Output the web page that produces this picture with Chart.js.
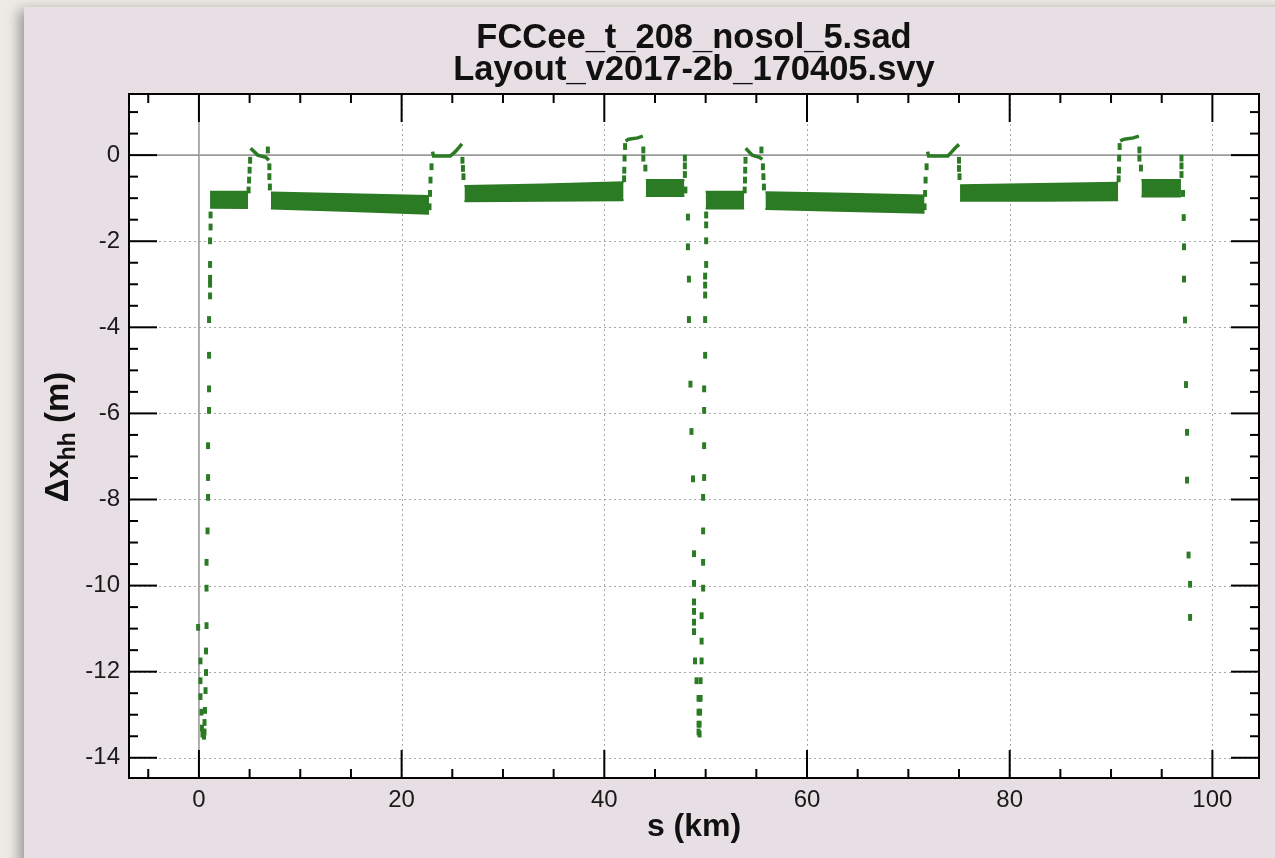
<!DOCTYPE html>
<html>
<head>
<meta charset="utf-8">
<title>FCCee_t_208_nosol_5.sad</title>
<script src="https://cdn.jsdelivr.net/npm/chart.js@4.4.1/dist/chart.umd.min.js"></script>
<style>
  html, body { margin: 0; padding: 0; }
  body { width: 1275px; height: 858px; background: #ecebe6; position: relative; overflow: hidden; }
  .panel { position: absolute; left: 24px; top: 7px; width: 1270px; height: 870px; background: #e8dfe4; box-shadow: -5px 3px 12px rgba(0, 0, 0, 0.35); }
  #orbitChart { position: absolute; left: 0; top: 0; }
</style>
</head>
<body>
<div class="panel"></div>
<canvas id="orbitChart" width="1275" height="858"></canvas>
<script>
const titleLines = ['FCCee_t_208_nosol_5.sad', 'Layout_v2017-2b_170405.svy'];
const xTicks = [0, 20, 40, 60, 80, 100];
const yTicks = [-14, -12, -10, -8, -6, -4, -2, 0];

// dense arc regions: s (km) along each band with upper / lower edge (m)
const bandS = [
  [1.1, 4.85], [7.1, 15, 22.7], [26.2, 34, 41.9], [44.1, 47.9],
  [50.0, 53.8], [55.9, 64, 71.6], [75.1, 83, 90.7], [93.0, 96.9],
];
const bandUpper = [
  [-0.85, -0.85], [-0.87, -0.91, -0.95], [-0.72, -0.68, -0.63], [-0.58, -0.58],
  [-0.85, -0.85], [-0.86, -0.90, -0.94], [-0.70, -0.67, -0.64], [-0.58, -0.58],
];
const bandLower = [
  [-1.22, -1.23], [-1.24, -1.30, -1.36], [-1.07, -1.06, -1.05], [-0.95, -0.95],
  [-1.24, -1.24], [-1.25, -1.30, -1.34], [-1.06, -1.06, -1.05], [-0.96, -0.96],
];

// straight-section plateaus
const peakS = [
  [5.1, 5.8, 6.6, 6.9], [23.05, 23.15, 24.8, 25.3, 25.6, 25.95], [42.1, 42.4, 43.3, 43.8],
  [53.95, 54.6, 55.3, 55.6], [71.9, 72.0, 73.9, 74.3, 74.6, 75.0], [90.9, 91.3, 92.2, 92.75],
];
const peakY = [
  [0.16, 0.0, -0.05, -0.12], [0.08, -0.02, -0.02, 0.08, 0.16, 0.26], [0.33, 0.37, 0.40, 0.44],
  [0.16, 0.0, -0.05, -0.10], [0.08, -0.02, -0.02, 0.08, 0.16, 0.25], [0.33, 0.37, 0.40, 0.44],
];

// isolated elements: IR dips, plateau edges
const dotS = [
  -0.08, 0.15, 0.15, 0.15, 0.25, 0.3, 0.35,
  1.15, 1.15, 1.1, 1.1, 1.1, 1.1, 1.1, 1.0, 1.0, 1.0, 1.0, 0.9, 0.9, 0.9, 0.85, 0.75, 0.75, 0.75, 0.7, 0.7, 0.65, 0.6, 0.55, 0.55, 0.5,
  4.9, 4.95, 5.0, 5.05, 6.8, 6.95, 6.95, 7.0,
  22.75, 22.8, 22.85, 22.95, 26.0, 26.05, 26.1,
  41.95, 41.97, 42.0, 42.05, 43.85, 43.85, 44.05,
  47.95, 47.95, 47.95, 48.0,
  48.25, 48.25, 48.35, 48.35, 48.5, 48.6, 48.75, 48.85, 48.85, 48.85, 48.85, 48.85, 48.85, 48.95, 49.1, 49.3, 49.3, 49.3, 49.3,
  50.05, 50.05, 50.05, 50.05, 49.95, 49.95, 49.95, 49.95, 49.95, 49.85, 49.85, 49.85, 49.85, 49.75, 49.75, 49.75, 49.75, 49.6, 49.6, 49.6, 49.5, 49.5, 49.45, 49.4, 49.4,
  53.85, 53.88, 53.9, 53.93, 55.5, 55.65, 55.7, 55.75,
  71.6, 71.65, 71.7, 71.8, 75.0, 75.0, 75.05,
  90.75, 90.78, 90.8, 90.85, 92.8, 92.8, 92.95,
  96.95, 96.95, 96.95, 97.1,
  97.17, 97.2, 97.2, 97.3, 97.4, 97.5, 97.5, 97.65, 97.8, 97.8,
];
const dotY = [
  -10.97, -11.75, -12.21, -12.58, -12.94, -13.31, -13.45,
  -1.39, -1.67, -1.99, -2.54, -2.86, -3.00, -3.27, -3.82, -4.65, -5.43, -5.93, -6.75, -7.49, -7.95, -8.73, -9.46, -10.06, -10.93, -11.52, -12.02, -12.44, -12.90, -13.18, -13.40, -13.5,
  -0.81, -0.58, -0.35, -0.12, 0.12, -0.27, -0.5, -0.74,
  -1.2, -0.89, -0.58, -0.27, -0.12, -0.31, -0.5,
  -0.55, -0.35, -0.07, 0.2, 0.12, -0.07, -0.30,
  -0.07, -0.25, -0.45, -0.81,
  -1.44, -2.13, -2.88, -3.82, -5.32, -6.42, -7.52, -9.26, -9.95, -10.38, -10.6, -10.85, -11.07, -11.75, -12.21, -12.62, -12.94, -13.22, -13.4,
  -1.39, -1.62, -1.99, -2.54, -2.81, -3.02, -3.25, -3.82, -4.65, -5.43, -5.93, -6.75, -7.49, -7.95, -8.73, -9.46, -10.06, -10.70, -11.29, -11.75, -12.21, -12.62, -12.94, -13.22, -13.45,
  -0.81, -0.58, -0.35, -0.12, 0.12, -0.27, -0.5, -0.74,
  -1.2, -0.89, -0.58, -0.27, -0.12, -0.31, -0.5,
  -0.55, -0.35, -0.07, 0.2, 0.12, -0.07, -0.30,
  -0.07, -0.25, -0.45, -0.89,
  -1.45, -2.13, -2.88, -3.83, -5.33, -6.44, -7.55, -9.29, -9.97, -10.74,
];

const GREEN = '#2b7a24';
const FONT = '"Liberation Sans", Arial, sans-serif';
const xRange = [-6.9, 104.6];
const yRange = [-14.47, 1.42];

function pts(xs, ys) {
  return xs.map((s, i) => ({ x: s, y: ys[i] }));
}

const datasets = [];
bandS.forEach((s, i) => {
  datasets.push({
    data: pts(s, bandUpper[i]),
    borderColor: GREEN, backgroundColor: GREEN, borderWidth: 2,
    pointRadius: 0, fill: '+1', tension: 0,
  });
  datasets.push({
    data: pts(s, bandLower[i]),
    borderColor: GREEN, borderWidth: 2, pointRadius: 0, fill: false, tension: 0,
  });
});
peakS.forEach((s, i) => {
  datasets.push({
    data: pts(s, peakY[i]),
    borderColor: GREEN, borderWidth: 3.5, pointRadius: 0, fill: false, tension: 0,
  });
});
datasets.push({
  data: pts(dotS, dotY),
  showLine: false,
  pointStyle: 'line', rotation: 90,
  pointRadius: 3.4, pointBorderWidth: 4,
  pointBorderColor: GREEN, pointBackgroundColor: GREEN,
});

function strokeLine(ctx, x1, y1, x2, y2) {
  ctx.beginPath();
  ctx.moveTo(x1, y1);
  ctx.lineTo(x2, y2);
  ctx.stroke();
}

// white plot area, dotted grid and the zero lines under the data
const plotBackground = {
  id: 'plotBackground',
  beforeDatasetsDraw(chart) {
    const { ctx, chartArea: a, scales: { x, y } } = chart;
    ctx.save();
    ctx.fillStyle = '#ffffff';
    ctx.fillRect(a.left, a.top, a.right - a.left, a.bottom - a.top);
    ctx.strokeStyle = '#a9a9a9';
    ctx.lineWidth = 1;
    ctx.setLineDash([2, 3]);
    xTicks.forEach((v) => {
      if (v === 0) return;
      const px = Math.round(x.getPixelForValue(v)) + 0.5;
      strokeLine(ctx, px, a.top, px, a.bottom);
    });
    yTicks.forEach((v) => {
      if (v === 0) return;
      const py = Math.round(y.getPixelForValue(v)) + 0.5;
      strokeLine(ctx, a.left, py, a.right, py);
    });
    ctx.setLineDash([]);
    ctx.strokeStyle = '#9a9a9a';
    ctx.lineWidth = 1.6;
    const x0 = x.getPixelForValue(0);
    const y0 = y.getPixelForValue(0);
    strokeLine(ctx, x0, a.top, x0, a.bottom);
    strokeLine(ctx, a.left, y0, a.right, y0);
    ctx.restore();
  },
};

// frame with inward ticks on all four sides
const plotFrame = {
  id: 'plotFrame',
  afterDatasetsDraw(chart) {
    const { ctx, chartArea: a, scales: { x, y } } = chart;
    const major = 28, minor = 9;
    ctx.save();
    ctx.strokeStyle = '#000';
    ctx.lineWidth = 2;
    for (let v = Math.ceil(x.min / 5) * 5; v <= x.max; v += 5) {
      const len = v % 20 === 0 ? major : minor;
      const px = x.getPixelForValue(v);
      strokeLine(ctx, px, a.bottom, px, a.bottom - len);
      strokeLine(ctx, px, a.top, px, a.top + len);
    }
    for (let v = Math.ceil(y.min * 2) / 2; v <= y.max; v += 0.5) {
      const len = v % 2 === 0 ? major : minor;
      const py = y.getPixelForValue(v);
      strokeLine(ctx, a.left, py, a.left + len, py);
      strokeLine(ctx, a.right, py, a.right - len, py);
    }
    ctx.strokeRect(a.left, a.top, a.right - a.left, a.bottom - a.top);
    ctx.restore();
  },
};

// two-line title and axis titles (the y title carries a subscript)
const plotTitles = {
  id: 'plotTitles',
  afterDraw(chart) {
    const { ctx, chartArea: a } = chart;
    const cx = (a.left + a.right) / 2;
    ctx.save();
    ctx.fillStyle = '#111';
    ctx.textAlign = 'center';
    ctx.textBaseline = 'middle';
    ctx.font = `bold 34.5px ${FONT}`;
    ctx.fillText(titleLines[0], cx, 38);
    ctx.fillText(titleLines[1], cx, 70);
    ctx.font = `bold 32px ${FONT}`;
    ctx.fillText('s (km)', cx, 827);

    const big = `bold 33px ${FONT}`;
    const small = `bold 23px ${FONT}`;
    const parts = [['Δx', big, 0], ['hh', small, 7], [' (m)', big, 0]];
    let total = 0;
    parts.forEach(([t, f]) => { ctx.font = f; total += ctx.measureText(t).width; });
    ctx.translate(68, 437);
    ctx.rotate(-Math.PI / 2);
    ctx.textAlign = 'left';
    ctx.textBaseline = 'alphabetic';
    let pos = -total / 2;
    parts.forEach(([t, f, dy]) => {
      ctx.font = f;
      ctx.fillText(t, pos, dy);
      pos += ctx.measureText(t).width;
    });
    ctx.restore();
  },
};

new Chart(document.getElementById('orbitChart'), {
  type: 'line',
  data: { datasets },
  plugins: [plotBackground, plotFrame, plotTitles],
  options: {
    responsive: false,
    animation: false,
    layout: { padding: { left: 0, top: 94, right: 16, bottom: 0 } },
    plugins: { legend: { display: false }, tooltip: { enabled: false } },
    scales: {
      x: {
        type: 'linear',
        min: xRange[0],
        max: xRange[1],
        grid: { display: false },
        border: { display: false },
        afterBuildTicks: (axis) => { axis.ticks = xTicks.map((v) => ({ value: v })); },
        afterFit: (axis) => { axis.height = 80; },
        ticks: { color: '#1a1a1a', padding: 0, maxRotation: 0, font: { size: 24, family: FONT } },
      },
      y: {
        type: 'linear',
        min: yRange[0],
        max: yRange[1],
        grid: { display: false },
        border: { display: false },
        afterBuildTicks: (axis) => { axis.ticks = yTicks.map((v) => ({ value: v })); },
        afterFit: (axis) => { axis.width = 129; },
        ticks: { color: '#1a1a1a', padding: 1, font: { size: 24, family: FONT } },
      },
    },
  },
});
</script>
</body>
</html>
